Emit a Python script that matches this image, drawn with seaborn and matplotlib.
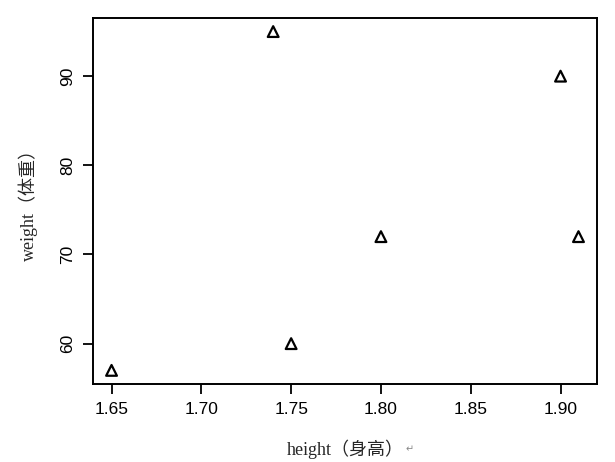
import matplotlib
matplotlib.use("Agg")
import matplotlib.pyplot as plt
import seaborn as sns
import pandas as pd

# data
height = [1.65, 1.74, 1.75, 1.80, 1.90, 1.91]
weight = [57, 95, 60, 72, 90, 72]
x_ticks = [1.65, 1.70, 1.75, 1.80, 1.85, 1.90]
y_ticks = [60, 70, 80, 90]

df = pd.DataFrame({"height": height, "weight": weight})

sns.set_style("ticks")
plt.rcParams["font.family"] = ["Liberation Sans", "DejaVu Sans"]

fig = plt.figure(figsize=(6.15, 4.62), dpi=100)
ax = fig.add_axes([0.151, 0.169, 0.820, 0.792])

sns.scatterplot(data=df, x="height", y="weight", ax=ax, marker="^",
                s=60, facecolors="none", edgecolor="black", linewidth=1.6)

# R style 4% padding
xr = max(height) - min(height)
yr = max(weight) - min(weight)
ax.set_xlim(min(height) - 0.04 * xr, max(height) + 0.04 * xr)
ax.set_ylim(min(weight) - 0.04 * yr, max(weight) + 0.04 * yr)

ax.set_xticks(x_ticks)
ax.set_xticklabels([f"{t:.2f}" for t in x_ticks])
ax.set_yticks(y_ticks)
ax.set_yticklabels([str(t) for t in y_ticks], rotation=90, va="center")

ax.tick_params(direction="out", length=7, width=1.3, labelsize=12.5,
               colors="black", pad=6)
for sp in ax.spines.values():
    sp.set_visible(True)
    sp.set_linewidth(1.4)
    sp.set_color("black")

label_font = ["Liberation Serif", "Noto Sans CJK SC"]
ax.set_xlabel("height（身高）", family=label_font, fontsize=13, labelpad=16)
ax.set_ylabel("weight（体重）", family=label_font, fontsize=13, labelpad=16)
fig.text(0.66, 0.022, "↵", fontsize=7, color="#888888", family=["DejaVu Sans"])

fig.savefig("out.png", dpi=100)
